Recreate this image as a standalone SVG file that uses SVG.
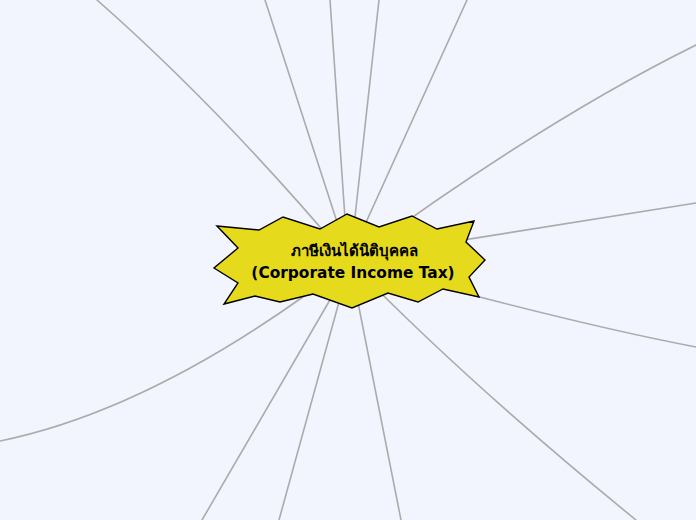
<svg xmlns="http://www.w3.org/2000/svg" width="696" height="520" viewBox="0 0 696 520">
<style>
.c{fill:none;stroke:#ababab;stroke-width:1.6;stroke-linecap:round}
.star{fill:#e5da1c;stroke:#000;stroke-width:1.4;stroke-linejoin:miter}
.t{font-family:"DejaVu Sans","Noto Sans",sans-serif;font-weight:bold;font-size:15px;fill:#000;text-anchor:middle}
</style>
<rect width="696" height="520" fill="#f2f5fe"/>
<g id="connectors">
<path class="c" d="M97,0 Q222,110 350,262"/>
<path class="c" d="M265,0 L350,262"/>
<path class="c" d="M330,0 L348,262"/>
<path class="c" d="M379,0 L350,262"/>
<path class="c" d="M467,0 L348,262"/>
<path class="c" d="M696,45 Q542,121 350,262"/>
<path class="c" d="M696,203 L350,258"/>
<path class="c" d="M696,347 Q565,322 350,262"/>
<path class="c" d="M636,520 Q470,385 350,262"/>
<path class="c" d="M401,520 L350,262"/>
<path class="c" d="M279,520 L350,262"/>
<path class="c" d="M202,520 L352,262"/>
<path class="c" d="M0,441 Q161,408 350,262"/>
</g>
<g id="root">
<polygon class="star" points="217,226 259,230 283,217 320,229 347,214 379,227 412,216 437,229 474,221 466,242 485,260 469,277 479,297 443,289 418,302 388,293 352,308 313,294 280,302 255,296 224,304 238,283 214,268 238,248"/>
<text class="t" x="354" y="256">ภาษีเงินได้นิติบุคคล</text>
<text class="t" x="353" y="278" style="font-size:15.4px">(Corporate Income Tax)</text>
</g>
</svg>
